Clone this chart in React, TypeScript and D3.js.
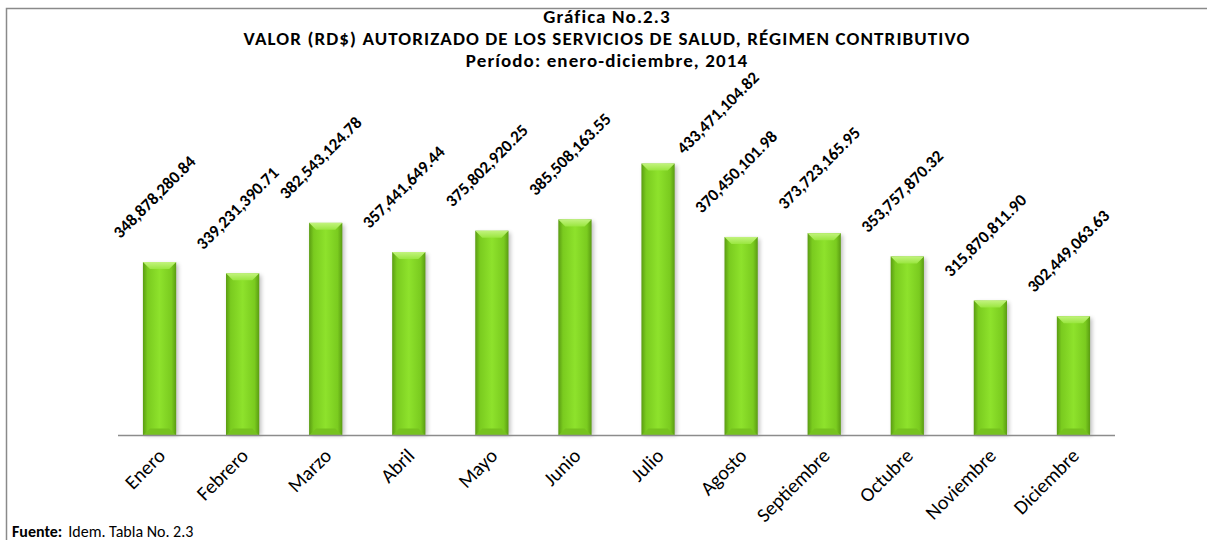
import React from "react";
import * as d3 from "d3";

const months = ["Enero", "Febrero", "Marzo", "Abril", "Mayo", "Junio", "Julio", "Agosto", "Septiembre", "Octubre", "Noviembre", "Diciembre"];
const values = [348878280.84, 339231390.71, 382543124.78, 357441649.44, 375802920.25, 385508163.55, 433471104.82, 370450101.98, 373723165.95, 353757870.32, 315870811.9, 302449063.63];
const titleLines = [
  "Gráfica No.2.3",
  "VALOR  (RD$) AUTORIZADO DE LOS SERVICIOS DE SALUD, RÉGIMEN CONTRIBUTIVO",
  "Período: enero-diciembre, 2014",
];
const yDomain = [200000000, 450000000];

const W = 1207;
const H = 540;
const FONT = "Carlito, Lato, 'Open Sans', sans-serif";

const App = () => {
  const x = d3.scaleBand<string>().domain(months).range([118, 1115]).paddingInner(0.6).paddingOuter(0.3);
  const y = d3.scaleLinear().domain(yDomain).range([435.5, 144.3]);
  const fmt = d3.format(",.2f");
  const bw = x.bandwidth();
  const bev = 7;
  const base = y(yDomain[0]);
  const labelTop = 113; // labels are kept inside the chart area

  return (
    <svg width={W} height={H} style={{ position: "absolute", left: 0, top: 0, background: "#fff" }} fontFamily={FONT}>
      <defs>
        <linearGradient id="barBody" x1="0" x2="1" y1="0" y2="0">
          <stop offset="0%" stopColor="#5a9c12" />
          <stop offset="14%" stopColor="#7acb1f" />
          <stop offset="50%" stopColor="#8ee22c" />
          <stop offset="86%" stopColor="#7acb1f" />
          <stop offset="100%" stopColor="#5a9c12" />
        </linearGradient>
        <linearGradient id="barTop" x1="0" x2="0" y1="0" y2="1">
          <stop offset="0%" stopColor="#c2f37e" />
          <stop offset="100%" stopColor="#9ae640" />
        </linearGradient>
        <filter id="shadow" x="-30%" y="-10%" width="160%" height="120%">
          <feGaussianBlur stdDeviation="2" />
        </filter>
      </defs>

      <rect x={6.5} y={8.5} width={1300} height={600} fill="none" stroke="#8a8a8a" strokeWidth={1.5} />

      {titleLines.map((t, i) => (
        <text key={i} x={607} y={23 + i * 22} textAnchor="middle" fontWeight="bold" fontSize={19} letterSpacing={1.1} fill="#000">
          {t}
        </text>
      ))}

      {values.map((v, i) => {
        const x0 = x(months[i]) as number;
        const top = y(v);
        const h = base - top;
        return (
          <g key={months[i]}>
            <rect x={x0 + 2} y={top + 2} width={bw} height={h - 2} fill="#000" opacity={0.25} filter="url(#shadow)" />
            <rect x={x0} y={top} width={bw} height={h} fill="url(#barBody)" />
            <polygon
              points={`${x0},${top} ${x0 + bw},${top} ${x0 + bw - bev},${top + bev} ${x0 + bev},${top + bev}`}
              fill="url(#barTop)"
            />
            <polygon
              points={`${x0},${base} ${x0 + bw},${base} ${x0 + bw - bev},${base - bev} ${x0 + bev},${base - bev}`}
              fill="#76c21f"
            />
          </g>
        );
      })}

      <line x1={118} x2={1115} y1={base} y2={base} stroke="#8c8c8c" strokeWidth={1.5} />

      {values.map((v, i) => {
        const cx = (x(months[i]) as number) + bw / 2;
        let lx = cx - 5;
        let ly = y(v) - 65;
        if (ly < labelTop) {
          ly = labelTop;
          lx = cx + 60;
        }
        return (
          <text
            key={"v" + i}
            transform={`translate(${lx},${ly}) rotate(-45)`}
            textAnchor="middle"
            dominantBaseline="central"
            fontWeight="bold"
            fontSize={17}
            fill="#000"
          >
            {fmt(v)}
          </text>
        );
      })}

      {months.map((m) => {
        const cx = (x(m) as number) + bw / 2;
        return (
          <text
            key={"m" + m}
            transform={`translate(${cx + 2},${452}) rotate(-45)`}
            textAnchor="end"
            dominantBaseline="central"
            fontSize={20}
            fill="#000"
          >
            {m}
          </text>
        );
      })}

      <text x={12} y={537} fontSize={16} fill="#000">
        <tspan fontWeight="bold">Fuente:</tspan>
        <tspan dx={6}>Idem. Tabla No. 2.3</tspan>
      </text>
    </svg>
  );
};

export default App;
